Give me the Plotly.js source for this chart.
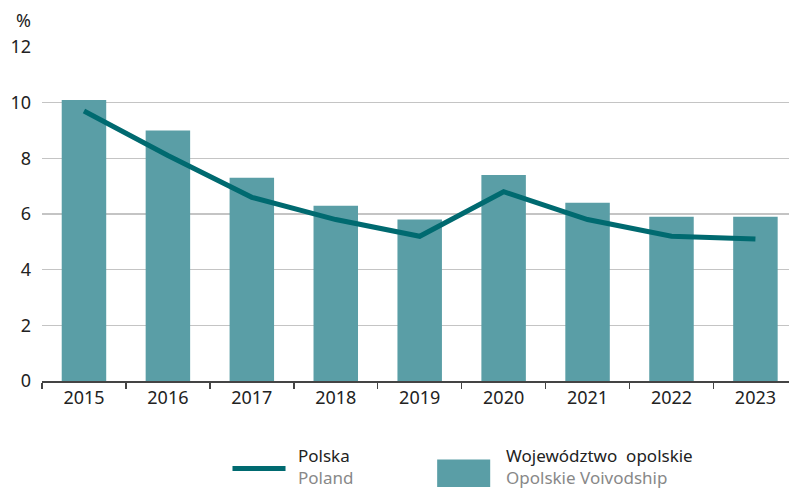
<!DOCTYPE html>
<html><head><meta charset="utf-8">
<script src="https://cdn.plot.ly/plotly-3.0.1.min.js"></script>
<style>html,body{margin:0;padding:0;background:#fff}#chart{width:789px;height:491px}</style>
</head><body><div id="chart"></div>
<script>
const years = ['2015','2016','2017','2018','2019','2020','2021','2022','2023'];
const opolskie = [10.1, 9.0, 7.3, 6.3, 5.8, 7.4, 6.4, 5.9, 5.9];
const polska = [9.7, 8.1, 6.6, 5.8, 5.2, 6.8, 5.8, 5.2, 5.1];
const yTicks = [0, 2, 4, 6, 8, 10, 12];

const FONT = 'Noto Sans, Open Sans, sans-serif';
const barColor = '#5a9ea6';
const lineColor = '#006a70';

const data = [
  {type:'bar', x: years, y: opolskie, marker:{color: barColor}, width: 0.53, name:'Województwo opolskie', hoverinfo:'y'},
  {type:'scatter', mode:'lines', x: years, y: polska, line:{color: lineColor, width: 5}, name:'Polska', hoverinfo:'y'}
];

const layout = {
  width: 789, height: 491,
  margin: {l: 42, r: 0, t: 47, b: 110},
  paper_bgcolor:'#fff', plot_bgcolor:'#fff',
  showlegend: false,
  font: {family: FONT, size: 18, color:'#222'},
  xaxis: {
    type:'category', range:[-0.5, 8.4],
    showgrid:false, showline:true, linecolor:'#444', linewidth:1.5,
    ticks:'outside', tickson:'boundaries', ticklen:6, tickcolor:'#444', tickwidth:1.5,
    tickfont:{size:18, color:'#222'}, fixedrange:true
  },
  yaxis: {
    range:[0, 12], tickvals: yTicks, showgrid:true, gridcolor:'#c4c4c4', gridwidth:1.5,
    zeroline:false, showline:false, ticks:'', ticklabelstandoff: 10,
    tickfont:{size:18, color:'#222'}, fixedrange:true
  },
  annotations: [
    {xref:'paper', yref:'paper', x:-0.037, y:1.081, xanchor:'left', yanchor:'middle', text:'%', showarrow:false, font:{size:18, color:'#222'}},
    {xref:'paper', yref:'paper', x:0.342, y:-0.257, xanchor:'left', yanchor:'middle', showarrow:false, align:'left', borderpad:0,
     text:'<span style="color:#222">Polska</span><br><span style="color:#888">Poland</span>', font:{size:17}},
    {xref:'paper', yref:'paper', x:0.62, y:-0.257, xanchor:'left', yanchor:'middle', showarrow:false, align:'left', borderpad:0,
     text:'<span style="color:#222">Województwo  opolskie</span><br><span style="color:#888">Opolskie Voivodship</span>', font:{size:17}}
  ],
  shapes: [
    {type:'line', xref:'paper', yref:'paper', x0:0.255, x1:0.326, y0:-0.262, y1:-0.262, line:{color:lineColor, width:5}},
    {type:'rect', xref:'paper', yref:'paper', x0:0.529, x1:0.600, y0:-0.317, y1:-0.235, fillcolor:barColor, line:{width:0}}
  ]
};

Plotly.newPlot('chart', data, layout, {displayModeBar:false, staticPlot:true});
</script></body></html>
